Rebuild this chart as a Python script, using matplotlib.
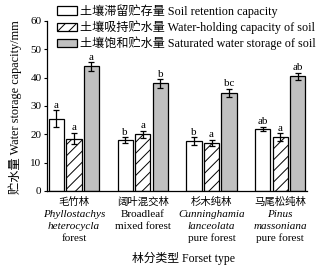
import matplotlib
matplotlib.use("Agg")
import matplotlib.pyplot as plt
import numpy as np

plt.rcParams['font.family'] = ['Liberation Serif', 'Noto Sans CJK SC', 'DejaVu Sans']
plt.rcParams['hatch.linewidth'] = 0.7

cn_labels = ["毛竹林", "阔叶混交林", "杉木纯林", "马尾松纯林"]
latin_lines = [
    [("Phyllostachys", "italic"), ("heterocycla", "italic"), ("forest", "normal")],
    [("Broadleaf", "normal"), ("mixed forest", "normal")],
    [("Cunninghamia", "italic"), ("lanceolata", "italic"), ("pure forest", "normal")],
    [("Pinus", "italic"), ("massoniana", "italic"), ("pure forest", "normal")],
]

series_names = ["土壤滞留贮存量 Soil retention capacity",
                "土壤吸持贮水量 Water-holding capacity of soil",
                "土壤饱和贮水量 Saturated water storage of soil"]
retention = [25.5, 18.0, 17.5, 22.0]
retention_err = [3.0, 1.0, 1.4, 0.7]
holding = [18.5, 20.0, 17.0, 19.0]
holding_err = [2.0, 1.3, 1.0, 1.3]
saturated = [44.0, 38.0, 34.5, 40.5]
saturated_err = [1.5, 1.5, 1.5, 1.3]
letters_ret = ["a", "b", "b", "ab"]
letters_hold = ["a", "a", "a", "a"]
letters_sat = ["a", "b", "bc", "ab"]

fig = plt.figure(figsize=(3.25, 2.69), dpi=100)
ax = fig.add_axes([0.145, 0.29, 0.80, 0.632])

x = np.arange(len(cn_labels))
w = 0.22
step = 0.255
fs = 8
vals = [retention, holding, saturated]
errs = [retention_err, holding_err, saturated_err]
lets = [letters_ret, letters_hold, letters_sat]
styles = [dict(facecolor="white", hatch=None),
          dict(facecolor="white", hatch="///"),
          dict(facecolor="#c0c0c0", hatch=None)]
handles = []
for i in range(3):
    pos = x + (i - 1) * step
    b = ax.bar(pos, vals[i], width=w, edgecolor="black", linewidth=0.9,
               label=series_names[i], **styles[i])
    handles.append(b)
    ax.errorbar(pos, vals[i], yerr=errs[i], fmt="none", ecolor="black",
                elinewidth=0.9, capsize=2.2, capthick=0.9)
    for p, v, e, t in zip(pos, vals[i], errs[i], lets[i]):
        ax.text(p, v + e + 0.2, t, ha="center", va="bottom", fontsize=fs)

ax.set_xlim(-0.39, 3.39)
ax.set_ylim(0, 60)
ax.set_yticks(np.arange(0, 61, 10))
ax.tick_params(axis="y", direction="out", length=2.5, width=0.8, labelsize=fs, pad=1.5)
ax.set_xticks(x)
ax.set_xticklabels([""] * 4)
ax.tick_params(axis="x", length=0)
for s in ["top", "right"]:
    ax.spines[s].set_visible(False)
for s in ["left", "bottom"]:
    ax.spines[s].set_linewidth(0.9)

trans = ax.get_xaxis_transform()
lh = 0.0706
for xi, cn, lines in zip(x, cn_labels, latin_lines):
    ax.text(xi, -0.065, cn, transform=trans, ha="center", va="center", fontsize=7.5)
    for j, (txt, st) in enumerate(lines):
        ax.text(xi, -0.065 - (j + 1) * lh, txt, transform=trans, ha="center",
                va="center", fontsize=fs, style=st)

fig.text(0.565, 0.041, "林分类型 Forset type", ha="center", va="center", fontsize=8.5)
fig.text(0.046, 0.60, "贮水量 Water storage capacity/mm", ha="center", va="center",
         rotation=90, fontsize=8.8)

fig.legend(handles=handles, labels=series_names, loc="upper left",
           bbox_to_anchor=(0.175, 0.985), frameon=False, fontsize=8.7,
           handlelength=1.65, handleheight=0.67, labelspacing=0.22,
           handletextpad=0.3, borderpad=0.0, borderaxespad=0)

fig.savefig("out.png", dpi=100)
